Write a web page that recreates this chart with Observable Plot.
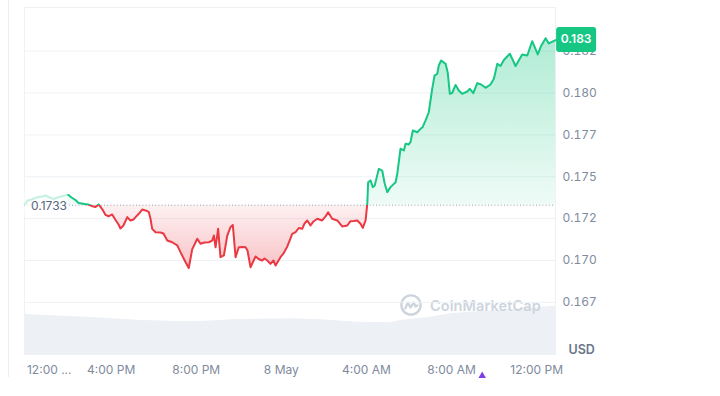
<!DOCTYPE html>
<html><head><meta charset="utf-8">
<script src="https://cdn.jsdelivr.net/npm/d3@7"></script>
<script src="https://cdn.jsdelivr.net/npm/@observablehq/plot@0.6"></script>
<style>
html,body{margin:0;padding:0;background:#fff;}
#wrap{position:relative;width:720px;height:378px;overflow:hidden;font-family:Inter,sans-serif;}
#wrap > svg{position:absolute;left:0;top:0;}
#edge{position:absolute;left:8px;top:0;width:1px;height:377px;background:#eceff2;}
#wm{position:absolute;left:400px;top:294px;display:flex;align-items:center;gap:8px;color:#cdd4de;font:600 14.5px Inter,sans-serif;letter-spacing:0.1px;}
</style></head><body>
<div id="wrap"><div id="edge"></div></div>
<script>
// hours relative to 00:00, 8 May
const hours = [-12.02,-11.93,-11.74,-11.50,-11.27,-11.08,-10.89,-10.70,-10.52,-10.28,-10.09,-10.00,-9.86,-9.67,-9.53,-9.39,-9.25,-9.06,-8.87,-8.73,-8.59,-8.42,-8.26,-8.12,-7.95,-7.79,-7.65,-7.56,-7.42,-7.24,-7.09,-6.95,-6.85,-6.70,-6.54,-6.38,-6.23,-6.15,-6.07,-5.91,-5.68,-5.54,-5.36,-5.13,-4.89,-4.74,-4.50,-4.35,-4.19,-3.95,-3.80,-3.61,-3.41,-3.25,-3.17,-3.09,-2.97,-2.86,-2.70,-2.54,-2.39,-2.28,-2.15,-2.00,-1.82,-1.68,-1.59,-1.45,-1.21,-1.07,-0.90,-0.79,-0.66,-0.51,-0.37,-0.27,-0.04,0.10,0.28,0.39,0.51,0.67,0.82,0.98,1.09,1.22,1.37,1.51,1.69,1.92,2.08,2.20,2.39,2.63,2.86,3.10,3.25,3.39,3.57,3.72,3.83,3.96,4.04,4.08,4.19,4.30,4.39,4.58,4.74,4.86,4.98,5.13,5.37,5.45,5.60,5.76,5.84,5.99,6.07,6.18,6.39,6.54,6.64,6.78,6.93,7.09,7.20,7.33,7.40,7.51,7.72,7.82,7.92,8.03,8.19,8.34,8.50,8.74,8.86,9.02,9.21,9.39,9.60,9.83,9.99,10.15,10.30,10.46,10.74,11.01,11.32,11.56,11.79,12.05,12.21,12.42,12.57,12.89];
const prices = [0.17339,0.17358,0.17364,0.17376,0.17382,0.17388,0.17376,0.17367,0.17376,0.17385,0.17391,0.17391,0.17376,0.17361,0.17343,0.17340,0.17337,0.17334,0.17324,0.17319,0.17335,0.17307,0.17272,0.17264,0.17275,0.17242,0.17215,0.17191,0.17209,0.17259,0.17239,0.17245,0.17259,0.17279,0.17304,0.17299,0.17290,0.17251,0.17189,0.17169,0.17167,0.17161,0.17119,0.17109,0.17090,0.17050,0.16990,0.16955,0.17066,0.17130,0.17100,0.17107,0.17109,0.17119,0.17149,0.17079,0.17189,0.17020,0.17030,0.17149,0.17199,0.17212,0.17020,0.17079,0.17081,0.17079,0.17060,0.16960,0.17024,0.17009,0.17000,0.17012,0.17000,0.16980,0.17000,0.16970,0.17020,0.17042,0.17084,0.17119,0.17159,0.17169,0.17194,0.17189,0.17221,0.17239,0.17209,0.17233,0.17249,0.17239,0.17263,0.17288,0.17249,0.17239,0.17203,0.17209,0.17235,0.17236,0.17239,0.17219,0.17195,0.17239,0.17339,0.17467,0.17478,0.17438,0.17448,0.17547,0.17537,0.17458,0.17408,0.17438,0.17467,0.17518,0.17667,0.17657,0.17697,0.17693,0.17706,0.17776,0.17766,0.17786,0.17796,0.17836,0.17885,0.18025,0.18104,0.18115,0.18164,0.18194,0.18174,0.18122,0.17995,0.18000,0.18048,0.18015,0.17995,0.18009,0.18025,0.17999,0.18059,0.18051,0.18031,0.18051,0.18085,0.18174,0.18161,0.18197,0.18234,0.18161,0.18230,0.18224,0.18309,0.18230,0.18281,0.18327,0.18296,0.18316];
const baseline = 0.1733;
const lastLabel = "0.183";
const baselineLabel = "0.1733";
const volHours = [-12.07,-10.99,-9.20,-8.03,-6.52,-4.97,-3.80,-2.86,-2.15,0.43,1.84,3.58,5.13,5.60,7.01,7.95,9.36,10.30,11.48,12.885];
const volValues = [40,39,37.3,35.7,34,33,33,34,35,35.7,34.7,32.3,31.7,34,37.3,40.7,43,44,46.3,48.3];
const yTicks = [0.1675,0.17,0.1725,0.175,0.1775,0.18,0.1825];
const yLabels = ["0.167","0.170","0.172","0.175","0.177","0.180","0.182"];
const xTicks = [-12,-8,-4,0,4,8,12];
const xLabels = ["12:00 ...","4:00 PM","8:00 PM","8 May","4:00 AM","8:00 AM","12:00 PM"];
const newsHours = [9.44];

const green = "#16c784", red = "#ea3943";
const W = 720, H = 396, mL = 24, mR = 165, mT = 7, mB = 42;
const xDomain = [-12.07, 12.885];
const yDomain = [0.164388, 0.185104];
const data = hours.map((h, i) => ({h, p: prices[i]}));
const volData = volHours.map((h, i) => ({h, v: volValues[i]}));
const wrap = document.getElementById("wrap");
const labelColor = "#808a9d";

const vol = Plot.plot({
  width: W, height: H, marginLeft: mL, marginRight: mR, marginTop: 254, marginBottom: mB,
  x: {domain: xDomain, axis: null}, y: {domain: [0, 100], axis: null},
  style: {background: "transparent"},
  marks: [Plot.areaY(volData, {x: "h", y: "v", fill: "#edf0f4"})]
});
wrap.appendChild(vol);

const wm = document.createElement("div");
wm.id = "wm";
wm.innerHTML = '<svg width="22" height="22" viewBox="0 0 22 22"><circle cx="11" cy="11" r="9.6" fill="none" stroke="#cdd4de" stroke-width="2.4"/><path d="M5.3 14.2 L7.8 8.6 L10.6 13.4 L13.6 8.6 L15.6 12.6 L17.4 11.4" fill="none" stroke="#cdd4de" stroke-width="2.3" stroke-linejoin="round" stroke-linecap="round"/></svg><span>CoinMarketCap</span>';
wrap.appendChild(wm);

const main = Plot.plot({
  width: W, height: H, marginLeft: mL, marginRight: mR, marginTop: mT, marginBottom: mB,
  x: {domain: xDomain, axis: null, label: null}, y: {domain: yDomain, axis: null, label: null},
  style: {fontFamily: "Inter, sans-serif", background: "transparent", overflow: "visible"},
  marks: [
    Plot.gridY(yTicks, {stroke: "#eff2f5", strokeOpacity: 1}),
    Plot.frame({stroke: "#eff2f5"}),
    Plot.areaY(data, {x: "h", y1: baseline, y2: "p", fill: "url(#areaGrad)"}),
    Plot.ruleY([baseline], {stroke: "#98a1b2", strokeDasharray: "1,2.2"}),
    Plot.line(data, {x: "h", y: "p", stroke: "url(#lineGrad)", strokeWidth: 2}),
    Plot.axisY(yTicks, {anchor: "right", label: null, tickSize: 0, tickPadding: 7, tickFormat: d => yLabels[yTicks.indexOf(d)], fontSize: 12, fill: labelColor}),
    Plot.text(xTicks.slice(1), {x: d => d, frameAnchor: "bottom", dy: 16, lineAnchor: "middle", text: d => xLabels[xTicks.indexOf(d)], fontSize: 12, fill: labelColor}),
    Plot.text(xTicks.slice(0, 1), {x: d => d, frameAnchor: "bottom", dy: 16, dx: 1, lineAnchor: "middle", textAnchor: "start", text: d => xLabels[xTicks.indexOf(d)], fontSize: 12, fill: labelColor}),
    Plot.text(["USD"], {frameAnchor: "bottom-right", dx: 13, dy: -5, textAnchor: "start", lineAnchor: "middle", fontSize: 12.5, fontWeight: 600, fill: "#6b7689"}),
    Plot.dot(newsHours, {x: d => d, frameAnchor: "bottom", dy: 24, symbol: "triangle", r: 4.5, fill: "#7b3fe4"})
  ]
});
wrap.appendChild(main);

const ys = main.scale("y"), xs = main.scale("x");
const by = ys.apply(baseline);
const svg = d3.select(main);
const defs = svg.insert("defs", ":first-child");
const lg = defs.append("linearGradient").attr("id", "lineGrad").attr("gradientUnits", "userSpaceOnUse")
  .attr("x1", 0).attr("x2", 0).attr("y1", 0).attr("y2", H);
const f = by / H;
[[0, green], [f, green], [f, red], [1, red]].forEach(([o, c]) => lg.append("stop").attr("offset", o).attr("stop-color", c));
const ag = defs.append("linearGradient").attr("id", "areaGrad").attr("gradientUnits", "userSpaceOnUse")
  .attr("x1", 0).attr("x2", 0).attr("y1", 0).attr("y2", H);
const yTop = ys.apply(d3.max(prices)) / H, yBot = ys.apply(d3.min(prices)) / H;
[[0, green, 0.36], [yTop, green, 0.34], [f, green, 0.07], [f, red, 0.07], [yBot, red, 0.3], [1, red, 0.3]]
  .forEach(([o, c, a]) => ag.append("stop").attr("offset", o).attr("stop-color", c).attr("stop-opacity", a));

// baseline label
svg.append("rect").attr("x", xs.apply(xDomain[0]) + 0.5).attr("y", by - 13).attr("width", 43).attr("height", 23)
  .attr("fill", "#fff").attr("fill-opacity", 0.75);
svg.append("text").attr("x", 31).attr("y", by + 1.5).attr("dominant-baseline", "middle").attr("text-anchor", "start")
  .attr("font-size", 12).attr("fill", "#58667e").attr("font-family", "Inter, sans-serif").text(baselineLabel);

// last price badge
const lx = xs.apply(hours[hours.length - 1]) + 1, ly = ys.apply(prices[prices.length - 1]);
svg.append("rect").attr("x", lx).attr("y", ly - 12.5).attr("width", 40).attr("height", 25).attr("rx", 3).attr("fill", green);
svg.append("text").attr("x", lx + 20).attr("y", ly + 0.5).attr("text-anchor", "middle").attr("dominant-baseline", "middle")
  .attr("font-size", 12).attr("font-weight", 600).attr("fill", "#fff").attr("font-family", "Inter, sans-serif").text(lastLabel);
</script>
</body></html>
